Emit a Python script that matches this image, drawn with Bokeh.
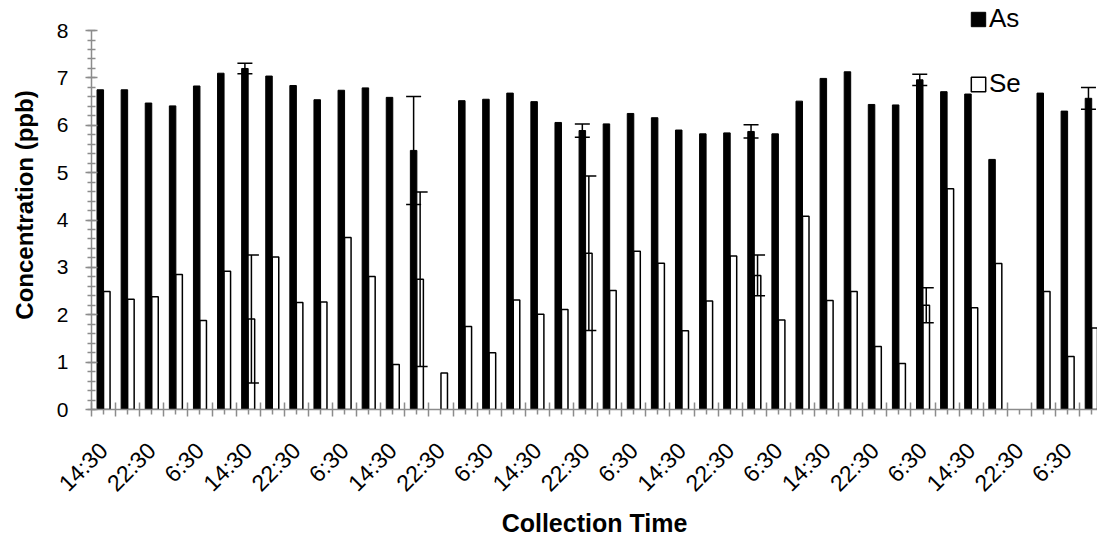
import math
from bokeh.plotting import figure
from bokeh.models import (ColumnDataSource, Range1d, FixedTicker, SingleIntervalTicker,
                          Whisker, TeeHead, Legend, LegendItem)
from bokeh.transform import dodge
from bokeh.embed import file_html
from bokeh.resources import INLINE

nan = float("nan")

# ---- data ----
times = ["14:30", "18:30", "22:30", "2:30", "6:30", "10:30"] * 7
as_vals = [6.75, 6.75, 6.47, 6.41, 6.83, 7.10, 7.20, 7.04, 6.84, 6.54, 6.74, 6.79, 6.59, 5.47,
           nan, 6.52, 6.55, 6.68, 6.50, 6.06, 5.89, 6.03, 6.25, 6.16, 5.90, 5.82, 5.84, 5.87,
           5.82, 6.51, 6.99, 7.13, 6.44, 6.43, 6.96, 6.71, 6.66, 5.28, nan, 6.68, 6.30, 6.57]
se_vals = [2.49, 2.33, 2.38, 2.85, 1.88, 2.92, 1.91, 3.22, 2.26, 2.27, 3.63, 2.81, 0.95, 2.75,
           0.77, 1.75, 1.20, 2.31, 2.01, 2.11, 3.30, 2.51, 3.34, 3.09, 1.66, 2.29, 3.24, 2.83,
           1.89, 4.08, 2.30, 2.49, 1.33, 0.97, 2.20, 4.66, 2.15, 3.08, nan, 2.49, 1.12, 1.72]
as_err = {6: 0.11, 13: 1.14, 20: 0.14, 27: 0.14, 34: 0.12, 41: 0.23}
se_err = {6: 1.35, 13: 1.84, 20: 1.63, 27: 0.43, 34: 0.37}

FONT = "Liberation Sans"
AXIS_GRAY = "#8c8c8c"

n = len(times)
xc = [i + 0.5 for i in range(n)]
src = ColumnDataSource(dict(x=xc, a=as_vals, s=se_vals, t=times))

def err_source(vals, errs):
    xs = [xc[i] for i in errs]
    lo = [vals[i] - errs[i] for i in errs]
    hi = [vals[i] + errs[i] for i in errs]
    return ColumnDataSource(dict(x=xs, lo=lo, hi=hi))

as_err_src = err_source(as_vals, as_err)
se_err_src = err_source(se_vals, se_err)

p = figure(width=1097, height=539, x_range=Range1d(0, 41.74), y_range=Range1d(0, 8.635),
           output_backend="svg", toolbar_location=None,
           min_border_left=91, min_border_right=0, min_border_top=0, min_border_bottom=124)
p.outline_line_color = None
p.xgrid.visible = False
p.ygrid.visible = False

BW = 0.27
r_as = p.vbar(x=dodge("x", -BW / 2), top="a", width=BW, source=src,
              fill_color="black", line_color="black", line_width=1)
r_se = p.vbar(x=dodge("x", BW / 2), top="s", width=BW, source=src,
              fill_color="white", line_color="black", line_width=1.5)

for es, off in ((as_err_src, -BW / 2), (se_err_src, BW / 2)):
    w = Whisker(base=dodge("x", off), lower="lo", upper="hi", source=es,
                line_color="black", line_width=1.5, level="annotation",
                upper_head=TeeHead(size=15, line_color="black", line_width=1.5),
                lower_head=TeeHead(size=15, line_color="black", line_width=1.5))
    p.add_layout(w)

# y axis
ya = p.yaxis[0]
ya.bounds = (0, 8)
ya.ticker = SingleIntervalTicker(interval=1, num_minor_ticks=5)
ya.axis_line_color = AXIS_GRAY
ya.axis_line_width = 1.5
ya.major_tick_line_color = AXIS_GRAY
ya.major_tick_line_width = 1.5
ya.minor_tick_line_color = AXIS_GRAY
ya.minor_tick_line_width = 1.5
ya.major_tick_in = 6
ya.major_tick_out = 6
ya.minor_tick_in = 4
ya.minor_tick_out = 4
ya.major_label_text_font = FONT
ya.major_label_text_font_size = "21px"
ya.major_label_text_color = "black"
ya.major_label_standoff = 17
ya.axis_label = "Concentration (ppb)"
ya.axis_label_text_font = FONT
ya.axis_label_text_font_size = "24px"
ya.axis_label_text_font_style = "bold"
ya.axis_label_text_color = "black"
ya.axis_label_standoff = 16

# x axis
xa = p.xaxis[0]
xa.ticker = FixedTicker(ticks=xc, minor_ticks=list(range(n + 1)))
xa.major_label_overrides = {xc[i]: (times[i] if i % 2 == 0 else "") for i in range(n)}
xa.major_label_orientation = math.pi / 4
xa.axis_line_color = AXIS_GRAY
xa.axis_line_width = 1.5
xa.major_tick_line_color = AXIS_GRAY
xa.major_tick_line_width = 1.5
xa.minor_tick_line_color = AXIS_GRAY
xa.minor_tick_line_width = 1.5
xa.major_tick_in = 0
xa.major_tick_out = 5
xa.minor_tick_in = 7
xa.minor_tick_out = 7
xa.major_label_text_font = FONT
xa.major_label_text_font_size = "23px"
xa.major_label_text_color = "black"
xa.major_label_standoff = 30
xa.axis_label = "Collection Time"
xa.axis_label_text_font = FONT
xa.axis_label_text_font_size = "25px"
xa.axis_label_text_font_style = "bold"
xa.axis_label_text_color = "black"
xa.axis_label_standoff = 0

legend = Legend(items=[LegendItem(label="As", renderers=[r_as]),
                       LegendItem(label="Se", renderers=[r_se])],
                location=(878, 310), orientation="vertical",
                glyph_width=18, glyph_height=18, label_standoff=2, spacing=34,
                padding=0, margin=0,
                label_text_font=FONT, label_text_font_size="26px", label_text_color="black",
                background_fill_alpha=0, border_line_alpha=0)
p.add_layout(legend)

open("out.html", "w").write(file_html(p, INLINE))
